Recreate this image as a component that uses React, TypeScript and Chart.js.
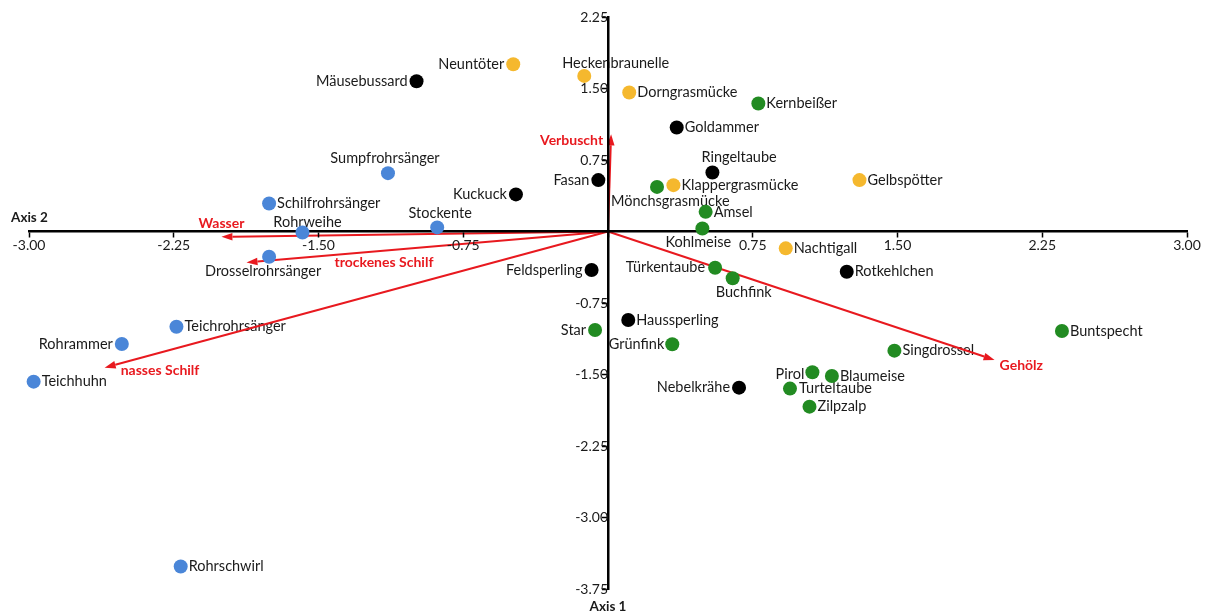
import { useEffect, useRef } from "react";
import { Chart, registerables } from "chart.js";

Chart.register(...registerables);

// Species scores on the two ordination axes
const birdNames = [
  "Sumpfrohrsänger", "Schilfrohrsänger", "Rohrweihe", "Stockente", "Drosselrohrsänger",
  "Teichrohrsänger", "Rohrammer", "Teichhuhn", "Rohrschwirl",
  "Mäusebussard", "Kuckuck", "Fasan", "Feldsperling", "Goldammer", "Ringeltaube",
  "Rotkehlchen", "Haussperling", "Nebelkrähe",
  "Neuntöter", "Heckenbraunelle", "Dorngrasmücke", "Klappergrasmücke", "Gelbspötter", "Nachtigall",
  "Kernbeißer", "Mönchsgrasmücke", "Amsel", "Kohlmeise", "Türkentaube", "Buchfink", "Star",
  "Grünfink", "Singdrossel", "Buntspecht", "Pirol", "Blaumeise", "Turteltaube", "Zilpzalp",
];

const axis2Scores = [
  -1.14, -1.756, -1.583, -0.885, -1.756,
  -2.236, -2.519, -2.976, -2.214,
  -0.992, -0.477, -0.05, -0.085, 0.356, 0.541,
  1.237, 0.105, 0.679,
  -0.491, -0.123, 0.11, 0.339, 1.303, 0.921,
  0.779, 0.254, 0.506, 0.489, 0.555, 0.646, -0.067,
  0.333, 1.484, 2.352, 1.059, 1.16, 0.943, 1.044,
];

const axis1Scores = [
  0.612, 0.294, -0.01, 0.043, -0.265,
  -0.999, -1.18, -1.575, -3.514,
  1.576, 0.389, 0.539, -0.404, 1.091, 0.619,
  -0.422, -0.928, -1.638,
  1.754, 1.632, 1.458, 0.486, 0.539, -0.177,
  1.342, 0.468, 0.206, 0.032, -0.38, -0.491, -1.033,
  -1.183, -1.25, -1.044, -1.476, -1.515, -1.648, -1.837,
];

const birdGroups = [
  "Röhricht", "Röhricht", "Röhricht", "Röhricht", "Röhricht",
  "Röhricht", "Röhricht", "Röhricht", "Röhricht",
  "Offenland", "Offenland", "Offenland", "Offenland", "Offenland", "Offenland",
  "Offenland", "Offenland", "Offenland",
  "Gebüsch", "Gebüsch", "Gebüsch", "Gebüsch", "Gebüsch", "Gebüsch",
  "Wald", "Wald", "Wald", "Wald", "Wald", "Wald", "Wald",
  "Wald", "Wald", "Wald", "Wald", "Wald", "Wald", "Wald",
];

const groupOrder = ["Röhricht", "Offenland", "Gebüsch", "Wald"];
const groupColors = ["#4a86d8", "#000000", "#f5b82e", "#228b22"];

// Label anchor for each species: [textAlign, dx, dy] relative to its dot
const labelPlacement: [CanvasTextAlign, number, number][] = [
  ["center", -3, -15], ["left", 8, 0], ["center", 5, -10], ["center", 3, -14], ["center", -6, 15],
  ["left", 8, 0], ["right", -9, 0], ["left", 8, 0], ["left", 8, 0],
  ["right", -9, 0], ["right", -9, 0], ["right", -9, 0], ["right", -9, 0], ["left", 8, 0], ["left", -11, -15],
  ["left", 8, 0], ["left", 8, 0], ["right", -9, 0],
  ["right", -9, 0], ["left", -22, -13], ["left", 8, 0], ["left", 8, 0], ["left", 8, 0], ["left", 8, 0],
  ["left", 8, 0], ["left", -46, 14], ["left", 8, 0], ["left", -37, 14], ["right", -10, 0], ["left", -17, 14], ["right", -9, 0],
  ["right", -8, 0], ["left", 8, 0], ["left", 8, 0], ["right", -8, 2], ["left", 8, 0], ["left", 9, 0], ["left", 8, 0],
];

// Environmental variables (biplot arrows)
const envNames = ["Verbuscht", "Wasser", "trockenes Schilf", "nasses Schilf", "Gehölz"];
const envAxis2 = [0.016, -2.003, -1.873, -2.608, 2.003];
const envAxis1 = [1.02, -0.056, -0.324, -1.428, -1.348];
const envLabelPlacement: [CanvasTextAlign, number, number][] = [
  ["right", -8, 6], ["center", 0, -13], ["left", 88, 0], ["left", 16, 3], ["left", 5, 5],
];

const xTicksStep = 0.75;
const yTicksStep = 0.75;

const FONT = "Lato, 'Open Sans', sans-serif";
const RED = "#e8191f";
const TEXT = "#1a1a1a";

export default function App() {
  const ref = useRef<HTMLCanvasElement | null>(null);

  useEffect(() => {
    if (!ref.current) return;

    const datasets = groupOrder.map((g, gi) => ({
      label: g,
      data: birdNames
        .map((name, i) => ({ x: axis2Scores[i], y: axis1Scores[i], name, place: labelPlacement[i], g: birdGroups[i] }))
        .filter((d) => d.g === g),
      backgroundColor: groupColors[gi],
      borderWidth: 0,
      pointRadius: 7,
      pointHoverRadius: 7,
      clip: false as any,
    }));

    // Species names and environmental arrows sit underneath the axes and the dots
    const underlay = {
      id: "underlay",
      beforeDraw(chart: any) {
        const ctx = chart.ctx;
        const xs = chart.scales.x;
        const ys = chart.scales.y;

        ctx.save();
        ctx.font = `14.5px ${FONT}`;
        ctx.fillStyle = TEXT;
        ctx.textBaseline = "middle";
        chart.data.datasets.forEach((ds: any, di: number) => {
          const meta = chart.getDatasetMeta(di);
          ds.data.forEach((d: any, j: number) => {
            const el = meta.data[j];
            if (!el) return;
            const [align, dx, dy] = d.place;
            ctx.textAlign = align;
            ctx.fillText(d.name, el.x + dx, el.y + dy);
          });
        });
        ctx.restore();

        const ox = xs.getPixelForValue(0);
        const oy = ys.getPixelForValue(0);
        ctx.save();
        ctx.strokeStyle = RED;
        ctx.fillStyle = RED;
        ctx.lineWidth = 2;
        envNames.forEach((_, i) => {
          const tx = xs.getPixelForValue(envAxis2[i]);
          const ty = ys.getPixelForValue(envAxis1[i]);
          const ang = Math.atan2(ty - oy, tx - ox);
          const headLen = 11;
          const headW = 3.8;
          const bx = tx - headLen * Math.cos(ang);
          const by = ty - headLen * Math.sin(ang);
          ctx.beginPath();
          ctx.moveTo(ox, oy);
          ctx.lineTo(bx, by);
          ctx.stroke();
          ctx.beginPath();
          ctx.moveTo(tx, ty);
          ctx.lineTo(bx - headW * Math.sin(ang), by + headW * Math.cos(ang));
          ctx.lineTo(bx + headW * Math.sin(ang), by - headW * Math.cos(ang));
          ctx.closePath();
          ctx.fill();
        });
        ctx.restore();
      },
    };

    const overlay = {
      id: "overlay",
      afterDraw(chart: any) {
        const ctx = chart.ctx;
        const area = chart.chartArea;
        const xs = chart.scales.x;
        const ys = chart.scales.y;

        ctx.save();
        ctx.font = `bold 14px ${FONT}`;
        ctx.fillStyle = RED;
        ctx.textBaseline = "middle";
        envNames.forEach((name, i) => {
          const [align, dx, dy] = envLabelPlacement[i];
          ctx.textAlign = align;
          ctx.fillText(name, xs.getPixelForValue(envAxis2[i]) + dx, ys.getPixelForValue(envAxis1[i]) + dy);
        });
        ctx.restore();

        ctx.save();
        ctx.font = `bold 13.5px ${FONT}`;
        ctx.fillStyle = TEXT;
        ctx.textBaseline = "middle";
        ctx.textAlign = "left";
        ctx.fillText("Axis 2", area.left - 18, ys.getPixelForValue(0) - 14);
        ctx.textAlign = "center";
        ctx.fillText("Axis 1", xs.getPixelForValue(0), area.bottom + 18);
        ctx.restore();
      },
    };

    const tickFmt = (v: any) => (Math.abs(Number(v)) < 1e-9 ? "" : Number(v).toFixed(2));

    const axisCommon = {
      type: "linear" as const,
      grid: {
        display: true,
        drawOnChartArea: false,
        drawTicks: true,
        tickLength: 5,
        tickWidth: 1.5,
        tickColor: "#000",
      },
      border: { display: true, color: "#000", width: 2.5 },
    };

    const chart = new Chart(ref.current, {
      type: "scatter",
      data: { datasets },
      options: {
        responsive: false,
        animation: false,
        events: [],
        layout: { padding: { left: 29, right: 20, top: 17, bottom: 27 } },
        plugins: { legend: { display: false }, tooltip: { enabled: false } },
        scales: {
          x: {
            ...axisCommon,
            min: -3,
            max: 3,
            position: { y: 0 },
            ticks: {
              stepSize: xTicksStep,
              autoSkip: false,
              maxRotation: 0,
              padding: 1,
              color: TEXT,
              font: { family: FONT, size: 14 },
              callback: tickFmt,
            },
          },
          y: {
            ...axisCommon,
            min: -3.75,
            max: 2.25,
            position: { x: 0 },
            ticks: {
              stepSize: yTicksStep,
              autoSkip: false,
              padding: 1,
              color: TEXT,
              font: { family: FONT, size: 14 },
              callback: tickFmt,
            },
          },
        },
      } as any,
      plugins: [underlay, overlay],
    });

    return () => chart.destroy();
  }, []);

  return (
    <div style={{ position: "fixed", left: 0, top: 0, width: 1207, height: 616, background: "#fff" }}>
      <canvas ref={ref} width={1207} height={616} style={{ display: "block" }} />
    </div>
  );
}
